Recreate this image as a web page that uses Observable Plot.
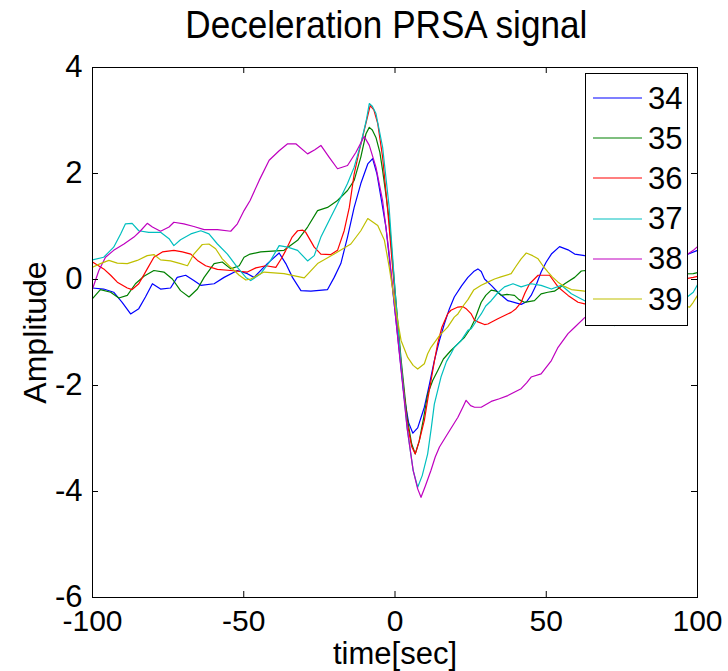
<!DOCTYPE html>
<html>
<head>
<meta charset="utf-8">
<script src="https://cdn.jsdelivr.net/npm/d3@7"></script>
<script src="https://cdn.jsdelivr.net/npm/@observablehq/plot@0.6"></script>
<style>
  html, body { margin: 0; padding: 0; background: white; }
  body { width: 728px; height: 671px; position: relative; overflow: hidden;
         font-family: "Liberation Sans", Arial, Helvetica, sans-serif; }
  #title { height: 50px; line-height: 50px; text-align: center;
           padding-left: 44px; width: 684px; color: #000; }
  #title span { display: inline-block; font-size: 39px; transform: scale(0.9, 1); transform-origin: center; white-space: nowrap; }
  #chart svg { display: block; }
  #legend { position: absolute; left: 585px; top: 73px; width: 101px; height: 247px;
            border: 1px solid #000; background: #fff; padding-top: 4px; box-sizing: content-box; }
  .row { height: 40.2px; display: flex; align-items: center; }
  .row svg { margin-left: 7px; width: 49px; height: 10px; }
  .row span { margin-left: 6px; font-size: 31px; line-height: 31px; color: #000; }
</style>
</head>
<body>
<div id="title"><span>Deceleration PRSA signal</span></div>
<div id="chart"></div>
<div id="legend"></div>
<script>
const seriesNames = ["34", "35", "36", "37", "38", "39"];
const seriesColors = ["#0000ff", "#008000", "#ff0000", "#00bfbf", "#bf00bf", "#bfbf00"];
const xTicks = [-100, -50, 0, 50, 100];
const yTicks = [-6, -4, -2, 0, 2, 4];

const s34 = [[-100,-0.16],[-96.3,-0.18],[-93,-0.24],[-90.2,-0.43],[-87.4,-0.65],[-84.7,-0.55],[-82.5,-0.33],[-80.2,-0.08],[-77.5,-0.18],[-74.2,-0.16],[-72,0.04],[-69.2,0.08],[-66.5,-0.02],[-64.2,-0.11],[-59.8,-0.08],[-56.5,0.04],[-52.1,0.17],[-48.8,0.11],[-46.6,0.04],[-42.2,0.30],[-38.3,0.50],[-36.1,0.30],[-33.9,0.04],[-31.1,-0.21],[-27.8,-0.22],[-22.3,-0.19],[-20.1,0.04],[-17.9,0.30],[-15.7,0.80],[-13.5,1.36],[-11.3,1.81],[-9.0,2.18],[-7.4,2.28],[-6,2.0],[-4.5,1.5],[-3,0.99],[-1.5,0.2],[0,-0.6],[1.5,-1.4],[3,-2.2],[4.5,-2.7],[5.9,-2.90],[7.5,-2.8],[9.7,-2.41],[11.3,-2.0],[13,-1.53],[14.7,-1.15],[16.3,-0.84],[18,-0.55],[19.6,-0.33],[22,-0.12],[24.1,0.04],[26,0.15],[27.4,0.20],[28.5,0.15],[29.6,0.01],[32,-0.12],[34,-0.24],[37.3,-0.40],[41.7,-0.47],[43.5,-0.42],[45,-0.30],[46.7,-0.1],[48.3,0.14],[50,0.33],[51.7,0.48],[54.4,0.62],[57.2,0.56],[59.4,0.48],[62.7,0.45],[68,0.42],[75,0.45],[82,0.4],[90,0.45],[97,0.48],[100,0.55]];

const s35 = [[-100,-0.36],[-97.4,-0.19],[-94,-0.24],[-91.3,-0.35],[-88.5,-0.30],[-85.8,-0.08],[-83,0.06],[-79.7,0.17],[-76.4,0.14],[-73.6,0.01],[-70.9,-0.21],[-68.1,-0.33],[-65.3,-0.18],[-63.1,0.04],[-59.8,0.30],[-57.1,0.33],[-54.3,0.20],[-51.5,0.26],[-49.9,0.42],[-47.9,0.48],[-44.4,0.52],[-36.7,0.55],[-32.2,0.74],[-28.9,0.99],[-25.6,1.30],[-22.3,1.36],[-19.0,1.49],[-15.7,1.68],[-13.5,1.87],[-11.3,2.31],[-9.6,2.75],[-8.5,2.87],[-7.5,2.82],[-6.3,2.68],[-5,2.4],[-4.1,2.06],[-3,1.6],[-1.9,1.11],[0,-0.2],[2,-1.5],[4,-2.6],[5.5,-3.1],[6.7,-3.29],[8,-3.05],[9.5,-2.6],[10.8,-2.16],[12.5,-1.9],[14.1,-1.72],[16,-1.5],[18.5,-1.34],[21,-1.2],[23,-1.09],[25,-0.92],[26.3,-0.77],[27.5,-0.58],[28.5,-0.43],[30,-0.3],[31.8,-0.2],[33.5,-0.22],[35.1,-0.30],[37,-0.28],[39.5,-0.30],[41,-0.38],[42.8,-0.43],[46.1,-0.40],[48.3,-0.27],[50.5,-0.24],[52.7,-0.22],[54.5,-0.15],[56.1,-0.08],[59.4,0.04],[61.6,0.16],[63,0.17],[70,0.12],[80,0.15],[90,0.1],[98.6,0.11],[100,0.13]];

const s36 = [[-100,0.33],[-96.3,0.20],[-94,0.08],[-91.8,-0.05],[-88.5,-0.16],[-86.9,-0.19],[-84.7,-0.08],[-81.9,0.20],[-79.7,0.42],[-76.9,0.52],[-73.1,0.55],[-70.3,0.52],[-67.5,0.48],[-65.3,0.36],[-62.6,0.26],[-58.7,0.19],[-54.3,0.17],[-48.8,0.14],[-46,0.22],[-42.7,0.26],[-39.4,0.23],[-37.5,0.4],[-36.1,0.55],[-34,0.80],[-32.2,0.92],[-30.5,0.93],[-29.5,0.89],[-26.7,0.61],[-24.5,0.48],[-21.2,0.47],[-19,0.55],[-16.8,0.92],[-15.1,1.36],[-13.5,1.99],[-11.8,2.43],[-10.2,2.81],[-8.2,3.28],[-7,3.2],[-5.7,2.94],[-4.1,2.31],[-2.4,1.3],[0,-0.3],[2,-1.6],[4,-2.7],[5.5,-3.15],[6.7,-3.29],[8,-3.05],[9.7,-2.66],[11,-2.2],[11.9,-1.91],[13,-1.55],[14.1,-1.21],[15.5,-0.9],[17.4,-0.65],[18.5,-0.58],[20.8,-0.52],[22.4,-0.51],[23.5,-0.55],[25.2,-0.65],[26.3,-0.77],[27.4,-0.80],[29.6,-0.85],[30.7,-0.84],[34,-0.74],[38.4,-0.62],[40,-0.55],[41.7,-0.43],[43,-0.25],[44.5,-0.08],[47.3,0.08],[51.1,0.08],[53.9,-0.14],[57.2,-0.30],[60.5,-0.43],[62.7,-0.46],[70,-0.35],[80,-0.2],[90,-0.05],[98.6,0.04],[100,0.06]];

const s37 = [[-100,0.37],[-96.3,0.42],[-93,0.61],[-90.7,0.86],[-89.1,1.05],[-86.9,1.06],[-84.7,0.92],[-81.4,0.89],[-77.5,0.89],[-74.7,0.77],[-73.1,0.64],[-70.9,0.75],[-67.5,0.86],[-64.2,0.92],[-61.5,0.86],[-58.7,0.67],[-55.4,0.48],[-52.1,0.23],[-49.3,0.04],[-47.7,-0.02],[-44.4,0.11],[-41.1,0.36],[-38.3,0.64],[-35.5,0.61],[-32.2,0.55],[-28.9,0.35],[-26.7,0.45],[-24.5,0.80],[-21.2,1.18],[-17.9,1.55],[-15.7,1.81],[-13.5,2.12],[-11.3,2.56],[-9.5,3.0],[-8.5,3.32],[-7.5,3.27],[-6.3,3.13],[-4.1,2.50],[-2,1.4],[0,-0.2],[2,-1.6],[4,-2.8],[6,-3.6],[7.5,-3.92],[9,-3.7],[10.8,-3.29],[12,-2.8],[13,-2.35],[15.2,-1.84],[17,-1.55],[18.5,-1.40],[19.6,-1.28],[21.9,-1.15],[24.1,-0.96],[25.2,-0.93],[27.4,-0.74],[28.5,-0.65],[30,-0.5],[31.8,-0.40],[34,-0.25],[36.2,-0.14],[39,-0.08],[41.7,-0.14],[45,-0.08],[48.3,-0.11],[51.7,-0.18],[55,-0.11],[58.3,-0.27],[62.7,-0.40],[67,-0.55],[70,-0.65],[72.6,-0.87],[75,-0.65],[80,-0.6],[85,-0.65],[89.2,-0.84],[92,-0.6],[95,-0.4],[98.6,-0.24],[100,-0.1]];

const s38 = [[-100,-0.18],[-97.9,0.17],[-95.7,0.42],[-93,0.55],[-89.6,0.67],[-86.3,0.80],[-84.1,0.92],[-81.9,1.06],[-80.2,0.99],[-77.5,0.91],[-74.7,0.99],[-73.1,1.08],[-69.8,1.05],[-66.5,1.00],[-63.1,0.94],[-58.7,0.94],[-54.3,0.91],[-52.1,1.05],[-49.9,1.30],[-47.9,1.49],[-44.9,1.87],[-41.6,2.25],[-38.3,2.43],[-35.5,2.56],[-32.8,2.56],[-28.9,2.37],[-26.5,2.45],[-24.5,2.53],[-21.8,2.31],[-19,2.09],[-15.7,2.15],[-12.9,2.40],[-10.2,2.70],[-8.5,2.53],[-6.3,2.12],[-4.1,1.49],[-1.9,0.48],[0,-0.6],[2,-1.7],[4,-2.8],[6,-3.6],[7.5,-3.95],[8.6,-4.11],[10,-3.9],[11.9,-3.60],[13.3,-3.35],[14.7,-3.16],[17.4,-2.91],[20.8,-2.60],[22.5,-2.4],[23.5,-2.28],[25,-2.38],[26.3,-2.41],[28.5,-2.41],[31.8,-2.30],[34.5,-2.25],[37.3,-2.19],[41.7,-2.06],[43.5,-1.95],[45,-1.84],[48.3,-1.78],[51.7,-1.53],[53.9,-1.28],[57.2,-1.02],[59.4,-0.90],[62.7,-0.72],[70,-0.45],[80,-0.05],[90,0.3],[96,0.45],[98.6,0.55],[100,0.62]];

const s39 = [[-100,0.23],[-97.4,0.30],[-94.6,0.36],[-91.8,0.31],[-88.5,0.30],[-85.2,0.36],[-81.9,0.45],[-79.7,0.47],[-77.5,0.37],[-74.2,0.35],[-70.9,0.30],[-68.6,0.26],[-66.5,0.48],[-63.7,0.66],[-61.5,0.67],[-59.3,0.58],[-57.1,0.39],[-54.3,0.23],[-51.5,0.08],[-49.3,-0.01],[-47.7,0.01],[-43.3,0.14],[-36.7,0.11],[-30.0,0.03],[-25.6,0.30],[-20.1,0.48],[-14.6,0.67],[-11.3,0.92],[-9.0,1.15],[-5.7,1.02],[-3.5,0.74],[-1.9,0.23],[0.3,-0.58],[2,-1.15],[4.2,-1.47],[6,-1.62],[7.5,-1.69],[9.7,-1.59],[10.8,-1.4],[11.9,-1.28],[14.7,-1.06],[17.4,-0.90],[19.6,-0.71],[20.8,-0.65],[22.5,-0.5],[24.1,-0.38],[26,-0.2],[28.5,-0.11],[30.7,-0.05],[32.9,0.01],[35,0.05],[38.4,0.11],[40,0.25],[41.7,0.39],[43.4,0.50],[45.5,0.45],[47.3,0.39],[49,0.25],[50.6,0.14],[52,0.05],[53.9,-0.05],[56,-0.13],[58.3,-0.19],[62.7,-0.22],[70,-0.25],[80,-0.3],[90,-0.45],[97.4,-0.52],[98.6,-0.43],[100,-0.3]];

const allSeries = [s34, s35, s36, s37, s38, s39];
const rows = allSeries.flatMap((s, i) => s.map(([t, v]) => ({series: seriesNames[i], t, v})));

const W = 728, H = 621;
const mL = 92, mR = 31, mT = 17, mB = 74;
const frameW = W - mL - mR, frameH = H - mT - mB;
const font = "Liberation Sans, Arial, Helvetica, sans-serif";

const chart = Plot.plot({
  width: W, height: H,
  marginLeft: mL, marginRight: mR, marginTop: mT, marginBottom: mB,
  style: {fontFamily: font, background: "white", color: "black", overflow: "visible"},
  x: {domain: [-100, 100]},
  y: {domain: [-6, 4]},
  color: {domain: seriesNames, range: seriesColors},
  marks: [
    Plot.line(rows, {x: "t", y: "v", z: "series", stroke: "series", strokeWidth: 1.2}),
    Plot.tickX(xTicks.slice(1, -1), {x: d => d, insetTop: frameH - 6, stroke: "black", strokeWidth: 1}),
    Plot.tickX(xTicks.slice(1, -1), {x: d => d, insetBottom: frameH - 6, stroke: "black", strokeWidth: 1}),
    Plot.tickY(yTicks.slice(1, -1), {y: d => d, insetRight: frameW - 6, stroke: "black", strokeWidth: 1}),
    Plot.tickY(yTicks.slice(1, -1), {y: d => d, insetLeft: frameW - 6, stroke: "black", strokeWidth: 1}),
    Plot.frame({stroke: "black", strokeWidth: 1}),
    Plot.axisX({ticks: xTicks, tickSize: 0, tickPadding: 12, fontSize: 30, tickFormat: d => String(d), label: null}),
    Plot.axisY({ticks: yTicks, tickSize: 0, tickPadding: 10, fontSize: 31, tickFormat: d => String(d), label: null}),
    Plot.text(["time[sec]"], {frameAnchor: "bottom", lineAnchor: "middle", textAnchor: "middle", dy: 57, fontSize: 31, fill: "black", text: d => d}),
    Plot.text(["Amplitude"], {frameAnchor: "left", lineAnchor: "middle", textAnchor: "middle", dx: -57, rotate: -90, fontSize: 32, fill: "black", text: d => d})
  ]
});
document.getElementById("chart").appendChild(chart);

const legend = document.getElementById("legend");
seriesNames.forEach((name, i) => {
  const row = document.createElement("div");
  row.className = "row";
  row.innerHTML = `<svg viewBox="0 0 49 10"><line x1="0" y1="5" x2="49" y2="5" stroke="${seriesColors[i]}" stroke-width="1.2"/></svg><span>${name}</span>`;
  legend.appendChild(row);
});
</script>
</body>
</html>
